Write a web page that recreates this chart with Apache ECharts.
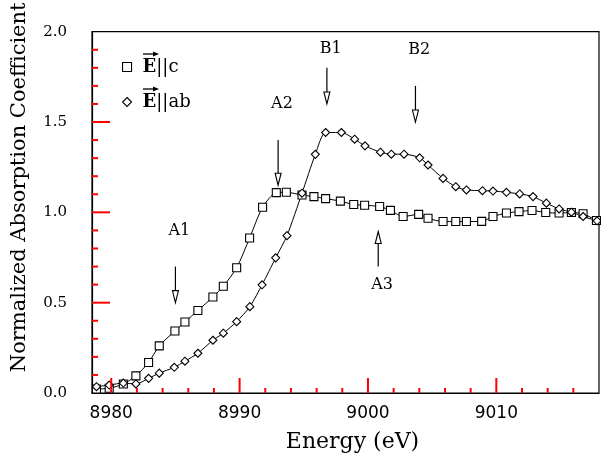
<!DOCTYPE html>
<html>
<head>
<meta charset="utf-8">
<script src="https://cdn.jsdelivr.net/npm/echarts@6/dist/echarts.min.js"></script>
<style>
html,body{margin:0;padding:0;background:#fff;}
#chart{width:601px;height:458px;}
</style>
</head>
<body>
<div id="chart"></div>
<script>
// ---- data ----
const seriesNames = ['E||c', 'E||ab'];
const energyC = [8978.85, 8979.84, 8980.94, 8981.92, 8982.91, 8983.74, 8984.96, 8985.74, 8986.75, 8987.92,
  8988.73, 8989.77, 8990.78, 8991.79, 8992.86, 8993.64, 8994.86, 8995.79, 8996.70, 8997.85,
  8998.89, 8999.74, 9000.91, 9001.75, 9002.74, 9003.95, 9004.68, 9005.85, 9006.84, 9007.67,
  9008.86, 9009.74, 9010.79, 9011.77, 9012.78, 9013.85, 9014.89, 9015.85, 9016.76, 9017.80];
const absC = [0.022, 0.026, 0.050, 0.095, 0.169, 0.261, 0.343, 0.393, 0.457, 0.531,
  0.591, 0.693, 0.858, 1.028, 1.109, 1.111, 1.096, 1.087, 1.076, 1.062,
  1.043, 1.039, 1.032, 1.011, 0.977, 0.989, 0.967, 0.949, 0.949, 0.949,
  0.950, 0.977, 0.996, 1.004, 1.010, 0.999, 0.996, 0.999, 0.992, 0.955];
const energyAB = [8978.85, 8979.84, 8980.94, 8981.92, 8982.91, 8983.74, 8984.91, 8985.74, 8986.75, 8987.92,
  8988.73, 8989.77, 8990.80, 8991.75, 8992.81, 8993.69, 8994.86, 8995.90, 8996.70, 8997.93,
  8998.96, 8999.77, 9000.97, 9001.82, 9002.81, 9004.03, 9004.68, 9005.85, 9006.84, 9007.67,
  9008.92, 9009.74, 9010.79, 9011.82, 9012.86, 9013.90, 9014.89, 9015.85, 9016.76, 9017.85];
const absAB = [0.035, 0.044, 0.055, 0.050, 0.081, 0.110, 0.142, 0.176, 0.220, 0.292,
  0.331, 0.395, 0.478, 0.599, 0.748, 0.871, 1.106, 1.321, 1.442, 1.442,
  1.405, 1.368, 1.333, 1.322, 1.322, 1.302, 1.262, 1.188, 1.142, 1.124,
  1.120, 1.118, 1.111, 1.102, 1.087, 1.051, 1.019, 1.001, 0.977, 0.953];
const xMajorTicks = [8980, 8990, 9000, 9010];
const xMinorTicks = [8982, 8984, 8986, 8988, 8992, 8994, 8996, 8998, 9002, 9004, 9006, 9008, 9012, 9014, 9016];
const yMajorTicks = [0.5, 1.0, 1.5];
const yMinorTicks = [0.1, 0.2, 0.3, 0.4, 0.6, 0.7, 0.8, 0.9, 1.1, 1.2, 1.3, 1.4, 1.6, 1.7, 1.8, 1.9];
// annotations (data coordinates)
const annotLabels = ['A1', 'A2', 'B1', 'B2', 'A3'];
const annotX = [8985.0, 8993.0, 8996.8, 9003.7, 9000.8];
const arrowFromY = [0.70, 1.40, 1.80, 1.70, 0.70];
const arrowToY = [0.50, 1.15, 1.60, 1.50, 0.894];
const labelX = [8985.3, 8993.3, 8997.1, 9004.0, 9001.1];
const labelY = [0.898, 1.598, 1.906, 1.900, 0.600];

const X_MIN = 8978.5, X_MAX = 9018;
const SERIF = '"DejaVu Serif", serif';
const chart = echarts.init(document.getElementById('chart'), null, {renderer: 'canvas'});

function zip(xs, ys) { return xs.map((x, i) => [x, ys[i]]); }

const symStyle = {color: '#fff', borderColor: '#000', borderWidth: 1.1};

const option = {
  animation: false,
  grid: {left: 92, right: 2, top: 31, bottom: 64, show: true, borderColor: '#000', borderWidth: 1.2},
  legend: {
    orient: 'vertical', left: 117, top: 53, itemWidth: 9, itemHeight: 9, itemGap: 17,
    data: [
      {name: seriesNames[0], icon: 'rect', itemStyle: symStyle},
      {name: seriesNames[1], icon: 'diamond', itemStyle: symStyle}
    ],
    formatter: function (name) { return '{e|E}{t|' + name.slice(1) + '}'; },
    textStyle: {
      rich: {
        e: {fontFamily: SERIF, fontSize: 18, fontWeight: 'bold', color: '#000', padding: [0, 0, 0, 6]},
        t: {fontFamily: SERIF, fontSize: 18, color: '#000'}
      }
    }
  },
  xAxis: {
    type: 'value', min: X_MIN, max: X_MAX, position: 'bottom',
    name: 'Energy (eV)', nameLocation: 'middle', nameGap: 38,
    nameTextStyle: {fontFamily: SERIF, fontSize: 22, color: '#000', padding: [0, 0, 0, 14]},
    axisLine: {show: true, onZero: false, lineStyle: {color: '#000', width: 1.2}},
    axisTick: {show: false},
    axisLabel: {show: true, customValues: xMajorTicks, margin: 12, color: '#000', fontFamily: '"DejaVu Sans", sans-serif', fontSize: 17,
      formatter: v => String(v)},
    splitLine: {show: false}
  },
  yAxis: {
    type: 'value', min: 0, max: 2, interval: 0.5,
    name: 'Normalized Absorption Coefficient', nameLocation: 'middle', nameGap: 62, nameRotate: 90,
    nameTextStyle: {fontFamily: SERIF, fontSize: 21, color: '#000', padding: [0, 0, 0, 50]},
    axisLine: {show: true, lineStyle: {color: '#000', width: 1.2}},
    axisTick: {show: false},
    axisLabel: {show: true, margin: 25, color: '#000', fontFamily: SERIF, fontSize: 15, formatter: v => v.toFixed(1)},
    splitLine: {show: false}
  },
  series: [
    {
      name: seriesNames[0], type: 'line', data: zip(energyC, absC),
      smooth: 0.25, symbol: 'rect', symbolSize: 8,
      lineStyle: {color: '#000', width: 1}, itemStyle: symStyle
    },
    {
      name: seriesNames[1], type: 'line', data: zip(energyAB, absAB),
      smooth: 0.25, symbol: 'diamond', symbolSize: 8,
      lineStyle: {color: '#000', width: 1}, itemStyle: symStyle
    }
  ]
};
chart.setOption(option);

const gfx = [];
function px(x, y) { return chart.convertToPixel({seriesIndex: 0}, [x, y]); }
// tick marks, placed through the axis scales
xMajorTicks.concat(xMinorTicks).forEach(function (v) {
  const len = xMajorTicks.indexOf(v) >= 0 ? 15 : 5;
  const p = px(v, 0);
  gfx.push({type: 'rect', shape: {x: p[0] - 1, y: p[1] - len, width: 2, height: len}, style: {fill: 'red'}, z: 20});
});
yMajorTicks.concat(yMinorTicks).forEach(function (v) {
  const len = yMajorTicks.indexOf(v) >= 0 ? 18 : 6;
  const p = px(X_MIN, v);
  gfx.push({type: 'rect', shape: {x: p[0], y: p[1] - 1, width: len, height: 2}, style: {fill: 'red'}, z: 20});
});
// annotations: arrows with hollow heads and labels
annotLabels.forEach(function (lab, i) {
  const p0 = px(annotX[i], arrowFromY[i]);
  const p1 = px(annotX[i], arrowToY[i]);
  const pl = px(labelX[i], labelY[i]);
  const dir = p1[1] > p0[1] ? 1 : -1;
  const headLen = 12, headW = 3;
  gfx.push({type: 'line', shape: {x1: p0[0], y1: p0[1], x2: p1[0], y2: p1[1] - dir * headLen},
    style: {stroke: '#000', lineWidth: 1.2}, z: 10});
  gfx.push({type: 'polygon', shape: {points: [[p1[0], p1[1]], [p1[0] - headW, p1[1] - dir * headLen], [p1[0] + headW, p1[1] - dir * headLen]]},
    style: {fill: '#fff', stroke: '#000', lineWidth: 1.1}, z: 10});
  gfx.push({type: 'text', x: pl[0], y: pl[1], style: {text: lab, fill: '#000', font: '16px ' + SERIF, align: 'center', verticalAlign: 'middle'}, z: 10});
});
// vector arrows over "E" in the legend
[54, 89].forEach(function (y) {
  gfx.push({type: 'line', shape: {x1: 143, y1: y, x2: 157, y2: y}, style: {stroke: '#000', lineWidth: 1.3}, z: 10});
  gfx.push({type: 'polygon', shape: {points: [[159, y], [153, y - 2.5], [153, y + 2.5]]}, style: {fill: '#000'}, z: 10});
});
chart.setOption({graphic: gfx});
</script>
</body>
</html>
